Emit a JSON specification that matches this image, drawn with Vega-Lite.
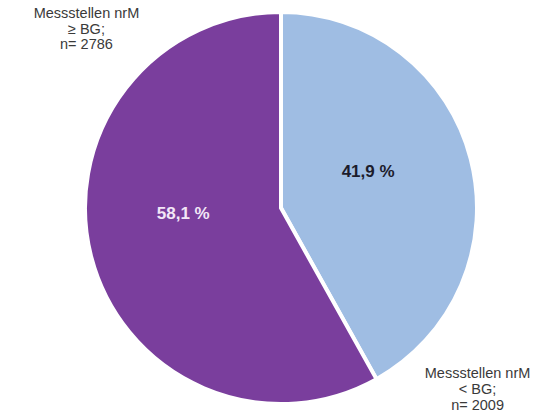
{
  "$schema": "https://vega.github.io/schema/vega-lite/v6.json",
  "autosize": {"type": "none"},
  "width": 506,
  "height": 410,
  "padding": {"left": 28, "right": 0, "top": 3, "bottom": 0},
  "background": "white",
  "view": {"stroke": null},
  "config": {"text": {"font": "Liberation Sans", "lineBreak": "\n"}},
  "data": {
    "values": [
      {"group": "< BG", "idx": 1, "n": 2009, "pct": "41,9 %", "label": "Messstellen nrM\n< BG;\nn= 2009"},
      {"group": "≥ BG", "idx": 2, "n": 2786, "pct": "58,1 %", "label": "Messstellen nrM\n≥ BG;\nn= 2786"}
    ]
  },
  "encoding": {
    "theta": {"field": "n", "type": "quantitative", "stack": true},
    "order": {"field": "idx", "type": "quantitative"}
  },
  "layer": [
    {
      "mark": {"type": "arc", "outerRadius": 196, "stroke": "white", "strokeWidth": 4},
      "encoding": {
        "color": {"field": "group", "type": "nominal", "legend": null,
          "scale": {"domain": ["< BG", "≥ BG"], "range": ["#9fbde3", "#7a3e9d"]}}
      }
    },
    {
      "mark": {"type": "text", "radius": 90, "dy": -13, "fontSize": 17, "fontWeight": "bold", "fill": "#1c1c2c"},
      "encoding": {"text": {"condition": {"test": "datum.idx == 1", "field": "pct"}, "value": ""}}
    },
    {
      "mark": {"type": "text", "radius": 101, "dy": -19, "fontSize": 17, "fontWeight": "bold", "fill": "#f2e6f7"},
      "encoding": {"text": {"condition": {"test": "datum.idx == 2", "field": "pct"}, "value": ""}}
    },
    {
      "mark": {"type": "text", "radius": 200, "dx": 3, "dy": 216, "fontSize": 14.5, "lineHeight": 16, "fill": "#3a3a3a", "align": "center", "baseline": "middle"},
      "encoding": {"text": {"condition": {"test": "datum.idx == 1", "field": "label"}, "value": ""}}
    },
    {
      "mark": {"type": "text", "radius": 200, "dx": -1, "dy": -244, "fontSize": 14.5, "lineHeight": 15.5, "fill": "#3a3a3a", "align": "center", "baseline": "middle"},
      "encoding": {"text": {"condition": {"test": "datum.idx == 2", "field": "label"}, "value": ""}}
    }
  ]
}
